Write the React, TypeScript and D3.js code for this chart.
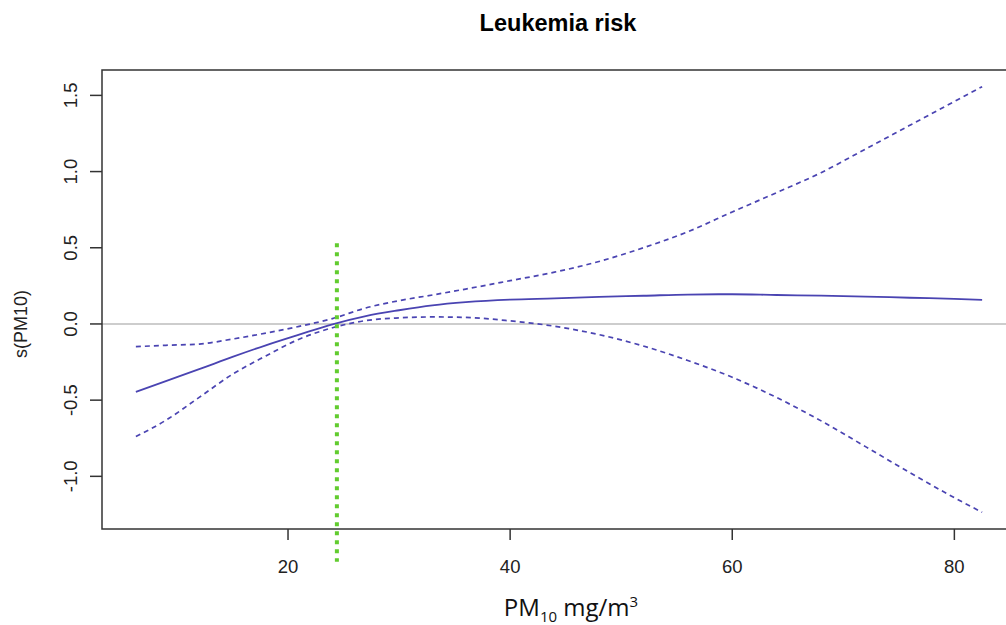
import React from "react";
import * as d3 from "d3";

const pm10 = [6.3, 9, 12, 15, 18, 21, 24, 27, 30, 33, 36, 40, 44, 48, 52, 56, 60, 64, 68, 72, 76, 80, 82.5];
const fitValues = [-0.446, -0.375, -0.297, -0.216, -0.14, -0.07, -0.002, 0.052, 0.09, 0.122, 0.143, 0.16, 0.168, 0.178, 0.185, 0.193, 0.195, 0.19, 0.186, 0.18, 0.172, 0.165, 0.158];
const upperValues = [-0.149, -0.14, -0.132, -0.099, -0.06, -0.016, 0.035, 0.105, 0.153, 0.19, 0.229, 0.284, 0.34, 0.41, 0.5, 0.605, 0.735, 0.862, 0.993, 1.148, 1.304, 1.46, 1.557];
const lowerValues = [-0.739, -0.632, -0.482, -0.33, -0.21, -0.1, -0.025, 0.022, 0.04, 0.046, 0.043, 0.02, -0.015, -0.07, -0.145, -0.24, -0.35, -0.483, -0.636, -0.805, -0.976, -1.14, -1.236];

const xTicks = [20, 40, 60, 80];
const yTicks = [-1.0, -0.5, 0.0, 0.5, 1.0, 1.5];
const thresholdX = 24.4;
const thresholdRange = [0.53, -1.56];

const title = "Leukemia risk";
const yLabel = "s(PM10)";

export default function App() {
  const W = 1006, H = 625;
  const left = 102, right = 1016, top = 70, bottom = 529;
  const x = d3.scaleLinear().domain([3.25, 85.55]).range([left, right]);
  const y = d3.scaleLinear().domain([-1.3456, 1.6666]).range([bottom, top]);

  const mk = (vals: number[]) =>
    d3.line<number>().x((_, i) => x(pm10[i])).y((v) => y(v)).curve(d3.curveMonotoneX)(vals) || "";

  const curveColor = "#4a44b2";
  const font = "'Liberation Sans', Arial, sans-serif";

  return (
    <svg width={W} height={H} style={{ position: "absolute", left: 0, top: 0, background: "#fff" }}>
      <rect x={0} y={0} width={W} height={H} fill="#fff" />
      <text x={558} y={31} textAnchor="middle" fontFamily={font} fontWeight="bold" fontSize={23.5}>
        {title}
      </text>

      <line x1={left} x2={right} y1={y(0)} y2={y(0)} stroke="#bdbdbd" strokeWidth={1.6} />

      <path d={mk(upperValues)} fill="none" stroke={curveColor} strokeWidth={1.7} strokeDasharray="5,4" />
      <path d={mk(lowerValues)} fill="none" stroke={curveColor} strokeWidth={1.7} strokeDasharray="5,4" />
      <path d={mk(fitValues)} fill="none" stroke={curveColor} strokeWidth={1.8} />

      <rect x={left} y={top} width={right - left} height={bottom - top} fill="none" stroke="#333" strokeWidth={1.5} />

      <line x1={x(thresholdX)} x2={x(thresholdX)} y1={y(thresholdRange[0])} y2={y(thresholdRange[1])} stroke="#62cc2f" strokeWidth={4} strokeDasharray="4,5" />

      {xTicks.map((t) => (
        <g key={"x" + t}>
          <line x1={x(t)} x2={x(t)} y1={bottom} y2={bottom + 11} stroke="#333" strokeWidth={1.5} />
          <text x={x(t)} y={573} textAnchor="middle" fontFamily={font} fontSize={18.5} fill="#222">
            {t}
          </text>
        </g>
      ))}

      {yTicks.map((t) => (
        <g key={"y" + t}>
          <line x1={left - 12} x2={left} y1={y(t)} y2={y(t)} stroke="#333" strokeWidth={1.5} />
          <text transform={`translate(77,${y(t)}) rotate(-90)`} textAnchor="middle" fontFamily={font} fontSize={18.5} fill="#222">
            {t.toFixed(1)}
          </text>
        </g>
      ))}

      <text transform={`translate(27,${y(0)}) rotate(-90)`} textAnchor="middle" fontFamily={font} fontSize={18} fill="#222">
        {yLabel}
      </text>

      <text x={571} y={616} textAnchor="middle" fontFamily="'Open Sans', 'Noto Sans', sans-serif" fontSize={24} fill="#111">
        PM<tspan fontSize={15} dy={6}>10</tspan>
        <tspan dy={-6}> mg/m</tspan>
        <tspan fontSize={15} dy={-9}>3</tspan>
      </text>
    </svg>
  );
}
